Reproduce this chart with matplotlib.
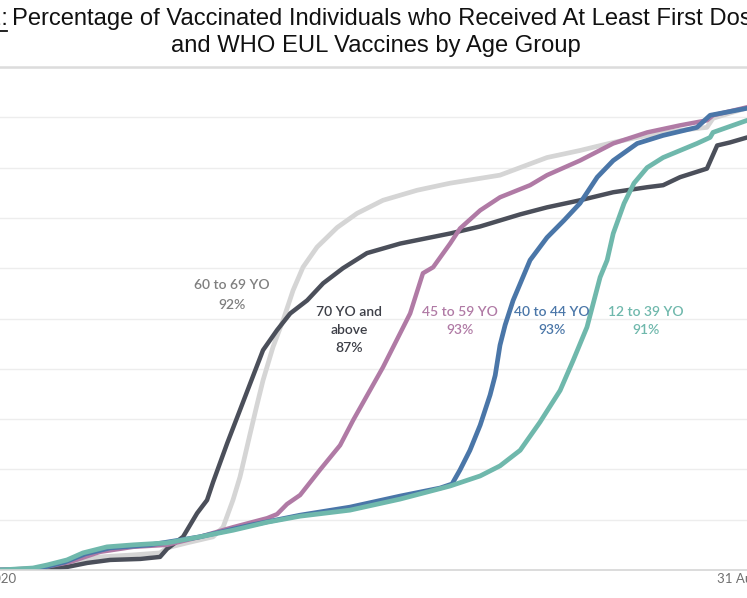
import matplotlib
matplotlib.use("Agg")
import matplotlib.pyplot as plt
import matplotlib.dates as mdates
import pandas as pd

# days counted from 31 Dec 2020, values = % of group with at least first dose
base_date = "2020-12-31"

days_70 = [6.9, 17.8, 22.5, 27.8, 34.1, 41.3, 50.7, 56.9, 59.1, 61.6, 64.1, 68.5, 71.6, 73.5,
           77.9, 81.9, 85.1, 89.1, 93.5, 97.6, 102.9, 107.9, 114.1, 121.6, 132.0, 147.6, 157.0,
           169.5, 177.9, 188.2, 198.6, 209.2, 214.2, 219.5, 227.9, 231.1, 235.1, 240.5]
pct_70 = [0, 0, 0.2, 0.6, 1.4, 2.0, 2.2, 2.6, 4.2, 5.4, 6.6, 11.3, 13.9, 17.5,
          25.2, 31.8, 37.1, 43.7, 47.7, 51.0, 53.6, 57.0, 60.0, 63.0, 64.9, 66.9, 68.3,
          70.7, 72.1, 73.5, 75.1, 76.1, 76.5, 78.1, 79.8, 84.4, 85.0, 86.0]

days_60 = [6.9, 19.4, 28.8, 38.1, 48.5, 56.9, 59.1, 65.4, 73.5, 76.6, 79.7, 81.9, 85.1, 87.2,
           89.1, 92.2, 95.4, 98.5, 101.6, 106.0, 112.3, 118.5, 126.6, 137.3, 147.6, 163.2,
           177.9, 188.2, 198.6, 209.2, 219.5, 227.9, 229.8, 240.5]
pct_60 = [0, 0, 1.4, 2.6, 3.0, 3.4, 4.4, 5.4, 6.6, 8.5, 13.9, 18.5, 27.2, 32.8,
          37.7, 44.3, 49.7, 55.6, 60.2, 64.2, 68.1, 70.9, 73.5, 75.5, 76.9, 78.5,
          82.0, 83.4, 85.0, 86.4, 87.4, 88.0, 89.8, 91.9]

days_45 = [6.9, 19.4, 28.8, 38.1, 48.5, 59.1, 69.4, 79.7, 90.4, 93.5, 96.6, 100.7, 106.9,
           113.2, 117.3, 126.6, 135.1, 139.1, 142.3, 147.6, 150.7, 157.0, 163.2, 172.6,
           177.9, 188.2, 198.6, 209.2, 219.5, 227.9, 229.8, 240.5]
pct_45 = [0, 0.4, 1.6, 3.6, 4.6, 5.0, 6.6, 8.5, 10.3, 11.1, 13.1, 14.9, 19.9,
          24.8, 29.8, 40.3, 51.0, 59.0, 60.2, 64.9, 67.9, 71.5, 74.1, 76.5,
          78.5, 81.4, 84.8, 87.0, 88.4, 89.4, 90.4, 92.0]

days_40 = [6.9, 14.7, 20.9, 27.2, 33.5, 41.3, 53.8, 69.4, 85.1, 100.7, 116.3, 132.0, 144.5,
           148.2, 150.7, 153.8, 157.0, 160.1, 161.7, 163.2, 164.8, 167.3, 172.6, 177.9,
           183.2, 188.2, 193.6, 198.6, 206.1, 214.2, 224.8, 228.9, 240.5]
pct_40 = [0, 0, 0.6, 1.6, 3.2, 4.4, 5.0, 6.6, 8.9, 10.9, 12.5, 14.7, 16.3,
          17.1, 19.9, 23.8, 28.8, 34.8, 38.7, 44.7, 48.7, 53.6, 61.6, 66.1,
          69.5, 72.9, 78.1, 81.4, 84.8, 86.4, 88.0, 90.4, 91.8]

days_12 = [6.9, 17.2, 21.6, 27.8, 32.8, 40.3, 48.5, 59.1, 69.4, 79.7, 90.4, 100.7, 116.3,
           132.0, 147.6, 157.0, 163.2, 169.5, 175.7, 182.0, 186.1, 190.4, 194.5, 196.7,
           198.6, 202.0, 205.1, 209.2, 214.2, 224.8, 228.9, 229.8, 240.5]
pct_12 = [0, 0.4, 1.0, 2.0, 3.4, 4.6, 5.0, 5.4, 6.6, 7.9, 9.5, 10.7, 11.9,
          14.1, 16.7, 18.7, 20.7, 23.8, 29.4, 35.7, 41.7, 48.3, 58.2, 61.6,
          66.9, 72.9, 76.9, 80.0, 82.0, 84.8, 86.0, 87.0, 89.4]

tick_dates = ["2020-12-31", "2021-08-31"]


def to_dates(days):
    return pd.Timestamp(base_date) + pd.to_timedelta(days, unit="D")


W, H = 747, 598
fig = plt.figure(figsize=(W / 100, H / 100), dpi=100)

# axes wider than the canvas so the picture looks cropped like the reference
ax = fig.add_axes([-60 / W, 1 - 570 / H, 860 / W, (570 - 67) / H])
ax.set_xlim(to_dates(-11.9), to_dates(257.0))
ax.set_ylim(0, 100)

ax.plot(to_dates(days_60), pct_60, color="#d5d5d5", lw=3.4, solid_capstyle="round")
ax.plot(to_dates(days_70), pct_70, color="#4b4f5a", lw=3.2, solid_capstyle="round")
ax.plot(to_dates(days_45), pct_45, color="#b07aa5", lw=3.2, solid_capstyle="round")
ax.plot(to_dates(days_40), pct_40, color="#4a76a8", lw=3.4, solid_capstyle="round")
ax.plot(to_dates(days_12), pct_12, color="#6fb8ac", lw=3.4, solid_capstyle="round")

ax.set_yticks(range(10, 101, 10))
ax.yaxis.grid(True, color="#ededed", lw=1)
ax.tick_params(axis="y", left=False, labelleft=False)
for s in ["left", "right", "top"]:
    ax.spines[s].set_visible(False)
ax.spines["bottom"].set_color("#d6d6d6")
ax.spines["bottom"].set_linewidth(1.2)

ax.set_xticks(pd.to_datetime(tick_dates))
ax.xaxis.set_major_formatter(mdates.DateFormatter("%d %b %Y"))
ax.tick_params(axis="x", length=0, pad=2, labelsize=9.5, labelcolor="#707070")
for t in ax.get_xticklabels():
    t.set_family(["Lato", "DejaVu Sans"])

# top separator line
fig.add_artist(plt.Line2D([0, 1], [1 - 67 / H, 1 - 67 / H], color="#dcdcdc", lw=1.8))

# title (cut off at both edges like the reference)
title_font = ["Liberation Sans Narrow", "Liberation Sans"]
tsize = 17.1
fig.text(12 / W, 1 - 19 / H, "Percentage of Vaccinated Individuals who Received At Least First Dose of FDA EUA",
         ha="left", va="center", fontsize=tsize, family=title_font, color="#111111")
fig.text(8 / W, 1 - 19 / H, "Figure 2:", ha="right", va="center", fontsize=tsize,
         family=title_font, color="#111111")
fig.add_artist(plt.Line2D([-60 / W, 7 / W], [1 - 31 / H, 1 - 31 / H], color="#111111", lw=1.3))
fig.text(376 / W, 1 - 46 / H, "and WHO EUL Vaccines by Age Group",
         ha="center", va="center", fontsize=tsize, family=title_font, color="#111111")

# series labels
lab_font = ["Lato", "DejaVu Sans"]
labels = [
    (232, 295, "60 to 69 YO\n92%", "#7f7f7f", 1.75),
    (349, 330, "70 YO and\nabove\n87%", "#3d3f47", 1.55),
    (460, 321, "45 to 59 YO\n93%", "#b07aa5", 1.55),
    (552, 321, "40 to 44 YO\n93%", "#4a76a8", 1.55),
    (646, 321, "12 to 39 YO\n91%", "#6fb8ac", 1.55),
]
for x, y, txt, c, ls in labels:
    fig.text(x / W, 1 - y / H, txt, ha="center", va="center", fontsize=10, color=c,
             family=lab_font, fontweight="semibold", linespacing=ls)

fig.savefig("out.png", dpi=100)
